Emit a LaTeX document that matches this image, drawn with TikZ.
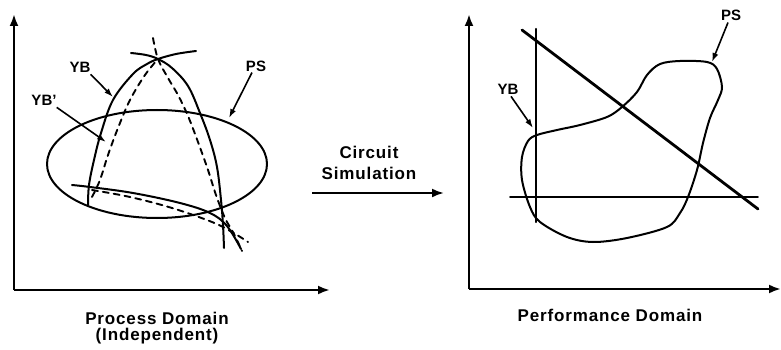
\documentclass[tikz,border=0pt]{standalone}
\usepackage{fontspec}
\setmainfont{Liberation Sans}
\newfontfamily\labfont[LetterSpace=5]{Liberation Sans}
\usetikzlibrary{arrows.meta}
\tikzset{
  curve/.style={line width=2pt, line join=round, line cap=round},
  dcurve/.style={line width=1.9pt, dash pattern=on 6pt off 5pt, line cap=round},
  axis/.style={line width=2.6pt, -{Latex[length=12pt,width=9pt]}},
  pointer/.style={line width=1.6pt, -{Latex[length=9pt,width=6pt]}},
  lbl/.style={font=\labfont\fontsize{17}{20}\selectfont\bfseries, inner sep=0pt},
  tag/.style={font=\fontsize{15}{17}\selectfont\bfseries, inner sep=0pt}
}
\begin{document}
\begin{tikzpicture}[x=1pt,y=-1pt]
\useasboundingbox (0,0) rectangle (781,350);
% ---------------- left panel ----------------
\coordinate (lo) at (14,290);
\coordinate (ly) at (14,14);
\coordinate (lx) at (330,290);
\draw[axis] (lo) -- (ly);
\draw[axis] (lo) -- (lx);
% PS ellipse
\draw[curve] (157,164) ellipse [x radius=110, y radius=54];
% YB solid arcs
\draw[curve] plot[smooth, tension=0.6] coordinates {(88,205) (89,185) (94,160) (101,133) (113,100) (133,74) (147,64) (158,59) (176,54) (196,51)};
\draw[curve] plot[smooth, tension=0.6] coordinates {(131,53) (146,55) (158,59) (172,68) (188,86) (200,113) (210,140) (217,167) (221,200) (223,225) (224,248)};
\draw[curve] plot[smooth, tension=0.6] coordinates {(72,185) (90,187) (133,193) (180,203) (210,213) (227,226) (241,249)};
% YB' dashed arcs
\draw[dcurve] plot[smooth, tension=0.6] coordinates {(92,197) (100,180) (108,155) (118,128) (130,100) (145,75) (158,59)};
\draw[dcurve] plot[smooth, tension=0.6] coordinates {(153,38) (158,59) (168,78) (178,95) (188,116) (198,142) (208,170) (216,195) (225,218) (234,234) (242,251)};
\draw[dcurve] plot[smooth, tension=0.6] coordinates {(92,190) (130,197) (172,208) (212,222) (232,232) (248,242)};
% labels
\node[tag] (yb) at (80,67) {YB};
\node[tag] (ybp) at (44,100) {YB'};
\node[tag] (ps) at (256,66) {PS};
\coordinate (ybt) at (113,97);
\coordinate (ybpt) at (106,142);
\coordinate (pst) at (229,118);
\draw[pointer] (yb.south east) ++(0,2) -- (ybt);
\draw[pointer] (ybp.south east) ++(0,2) -- (ybpt);
\draw[pointer] (ps.south) ++(-4,1) -- (pst);
\node[lbl] (pd) at (157,318) {Process Domain};
\node[lbl] (ind) at (157,336) {(Independent)};
% ---------------- middle ----------------
\node[lbl] (cir) at (369,152) {Circuit};
\node[lbl] (sim) at (369,173) {Simulation};
\coordinate (ma) at (312,193);
\coordinate (mb) at (444,193);
\draw[axis, line width=2.2pt] (ma) -- (mb);
% ---------------- right panel ----------------
\coordinate (ro) at (469,289);
\coordinate (ry) at (469,14);
\coordinate (rx) at (781,289);
\draw[axis] (ro) -- (ry);
\draw[axis] (ro) -- (rx);
\draw[curve, line width=2.4pt] (536,29) -- (536,222);
\draw[curve, line width=2.8pt] (522,30) -- (758,209);
\draw[curve, line width=1.6pt] (510,197) -- (758,197);
\draw[curve] plot[smooth cycle, tension=0.55] coordinates {
 (537,135) (557,130) (580,125) (607,117) (622,107) (637,92) (647,75) (660,64) (680,61) (707,62) (717,69) (722,87) (718,100) (710,118) (703,143) (697,170) (688,197) (680,213) (667,227) (627,238) (593,242) (567,237) (540,222) (530,207) (522,180) (522,157) (528,141)};
\node[tag] (yb2) at (508,89) {YB};
\node[tag] (ps2) at (731,15) {PS};
\coordinate (yb2t) at (533,128);
\coordinate (ps2t) at (712,62);
\draw[pointer] (yb2.south) ++(3,2) -- (yb2t);
\draw[pointer] (ps2.south) ++(-3,2) -- (ps2t);
\node[lbl] (pfd) at (610,315) {Performance Domain};
\end{tikzpicture}
\end{document}
